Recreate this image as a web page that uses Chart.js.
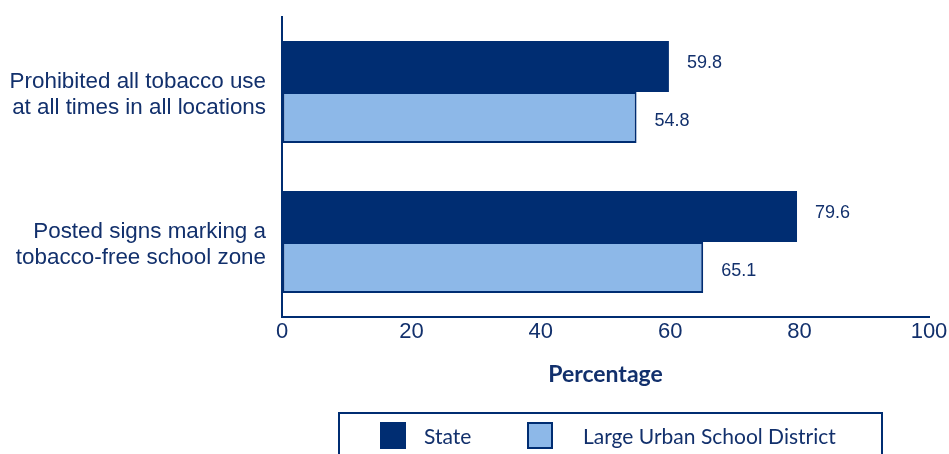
<!DOCTYPE html>
<html lang="en">
<head>
    <meta charset="UTF-8">
    <title>Tobacco-free school policies</title>
    <script src="https://cdn.jsdelivr.net/npm/chart.js"></script>
    <style>
        body { margin: 0; background: #fff; }
    </style>
</head>
<body>
    <canvas id="policyChart" width="949" height="454"></canvas>
    <script>
        // chart data
        var categories = [
            ['Prohibited all tobacco use', 'at all times in all locations'],
            ['Posted signs marking a', 'tobacco-free school zone']
        ];
        var stateValues = [59.8, 79.6];
        var districtValues = [54.8, 65.1];
        var seriesNames = ['State', 'Large Urban School District'];
        var xTicks = [0, 20, 40, 60, 80, 100];

        var navy = '#002D72';
        var lightBlue = '#8DB8E8';
        var textColor = '#12306C';

        // value labels next to each bar
        var valueLabels = {
            id: 'valueLabels',
            afterDatasetsDraw: function (chart) {
                var ctx = chart.ctx;
                ctx.save();
                ctx.font = '18px "Liberation Sans", Arial, sans-serif';
                ctx.fillStyle = textColor;
                ctx.textAlign = 'left';
                ctx.textBaseline = 'middle';
                chart.data.datasets.forEach(function (ds, i) {
                    var dy = i === 0 ? -3 : 4;
                    chart.getDatasetMeta(i).data.forEach(function (bar, j) {
                        ctx.fillText(ds.data[j].toFixed(1), bar.x + 18, bar.y + dy);
                    });
                });
                ctx.restore();
            }
        };

        // boxed legend below the axis title
        var boxLegend = {
            id: 'boxLegend',
            afterDraw: function (chart) {
                var ctx = chart.ctx;
                var ds = chart.data.datasets;
                ctx.save();
                ctx.strokeStyle = navy;
                ctx.lineWidth = 2;
                ctx.strokeRect(339, 413, 543, 60);
                var items = [{ x: 380, tx: 424 }, { x: 527, tx: 583 }];
                ctx.font = '21px Lato, sans-serif';
                ctx.textBaseline = 'middle';
                items.forEach(function (it, i) {
                    ctx.fillStyle = ds[i].backgroundColor;
                    ctx.fillRect(it.x, 422, 26, 27);
                    ctx.lineWidth = 2;
                    ctx.strokeStyle = navy;
                    ctx.strokeRect(it.x + 1, 423, 24, 25);
                    ctx.fillStyle = textColor;
                    ctx.fillText(ds[i].label, it.tx, 437);
                });
                ctx.restore();
            }
        };

        var ctx = document.getElementById('policyChart').getContext('2d');
        var chart = new Chart(ctx, {
            type: 'bar',
            data: {
                labels: categories,
                datasets: [{
                    label: seriesNames[0],
                    data: stateValues,
                    backgroundColor: navy,
                    borderWidth: 0
                }, {
                    label: seriesNames[1],
                    data: districtValues,
                    backgroundColor: lightBlue,
                    borderColor: navy,
                    borderWidth: 2,
                    borderSkipped: false
                }]
            },
            options: {
                indexAxis: 'y',
                responsive: false,
                animation: false,
                categoryPercentage: 0.68,
                barPercentage: 1.0,
                layout: { padding: { left: 0, top: 17, right: 20, bottom: 66 } },
                plugins: {
                    legend: { display: false },
                    tooltip: { enabled: false }
                },
                scales: {
                    x: {
                        min: 0,
                        max: 100,
                        afterBuildTicks: function (scale) {
                            scale.ticks = xTicks.map(function (v) { return { value: v }; });
                        },
                        afterFit: function (scale) {
                            scale.height = 71;
                            scale.paddingLeft = 0;
                            scale.paddingRight = 0;
                        },
                        grid: { drawOnChartArea: false, drawTicks: false },
                        border: { color: navy, width: 2 },
                        ticks: {
                            padding: 2,
                            color: textColor,
                            font: { family: '"Liberation Sans", Arial, sans-serif', size: 22 }
                        },
                        title: {
                            display: true,
                            text: 'Percentage',
                            color: textColor,
                            padding: 0,
                            font: { family: 'Lato, sans-serif', size: 23, weight: 'bold', lineHeight: 1.2 }
                        }
                    },
                    y: {
                        afterFit: function (scale) {
                            scale.width = 282;
                            scale.paddingTop = 0;
                            scale.paddingBottom = 0;
                        },
                        grid: { drawOnChartArea: false, drawTicks: false },
                        border: { color: navy, width: 2 },
                        ticks: {
                            padding: 16,
                            labelOffset: 3,
                            color: textColor,
                            font: { family: '"Liberation Sans", Arial, sans-serif', size: 22.4, lineHeight: 1.16 }
                        }
                    }
                }
            },
            plugins: [valueLabels, boxLegend]
        });
    </script>
</body>
</html>
